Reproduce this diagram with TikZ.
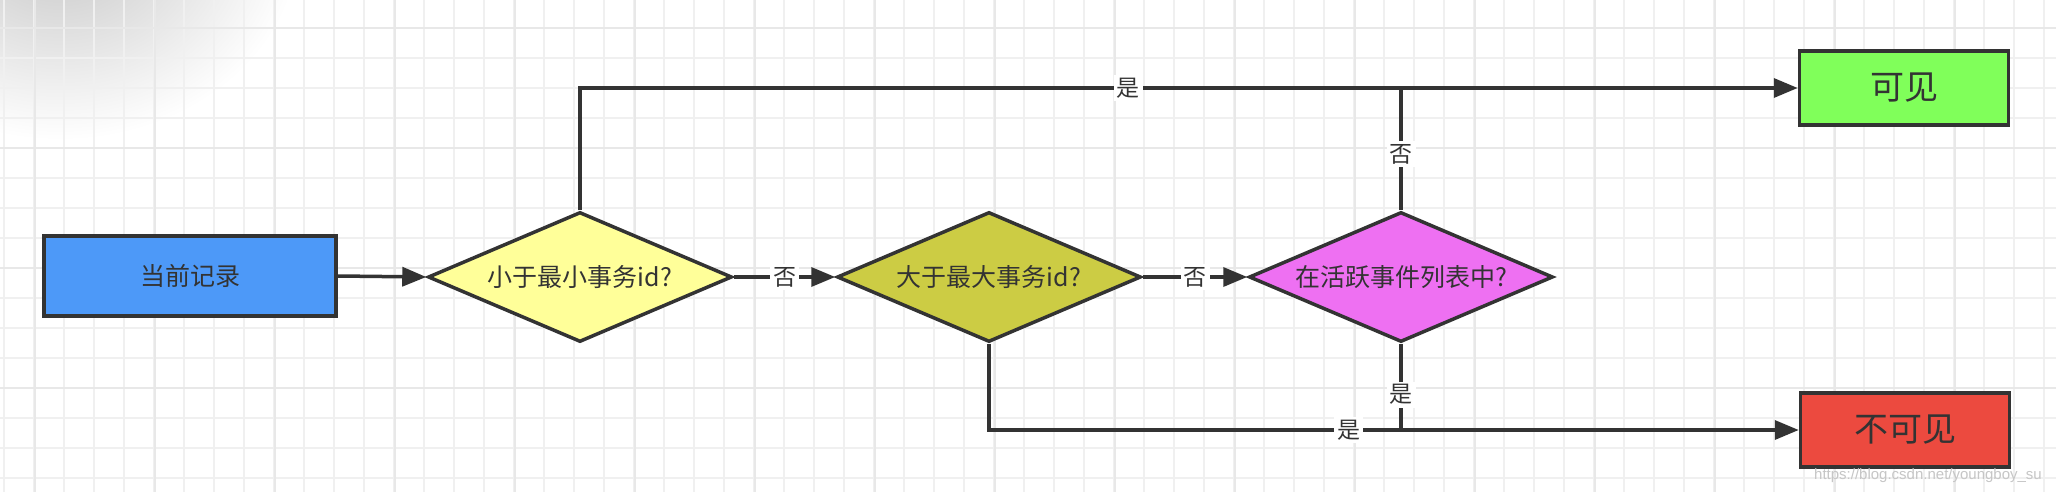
\documentclass[tikz,border=0pt]{standalone}
\usepackage{fontspec}
\setmainfont{Noto Sans CJK SC}
\newfontfamily\wmfont{Liberation Sans}
\usetikzlibrary{shapes.geometric,arrows.meta}
\definecolor{ink}{HTML}{333333}
\definecolor{blueF}{HTML}{4D99F8}
\definecolor{yellowF}{HTML}{FFFF99}
\definecolor{oliveF}{HTML}{CCCC44}
\definecolor{magF}{HTML}{EE70F2}
\definecolor{greenF}{HTML}{80FF5A}
\definecolor{redF}{HTML}{EC4A3F}
\definecolor{gridMinor}{HTML}{F0F0F0}
\definecolor{gridMajor}{HTML}{E8E8E8}
\tikzset{
  boxnode/.style={draw=ink, line width=3.5pt, text=ink, inner sep=0pt,
    minimum width=292pt, minimum height=80pt},
  resnode/.style={draw=ink, line width=3.5pt, text=ink, inner sep=0pt,
    minimum width=209pt, minimum height=74pt, font=\fontsize{34}{40}\selectfont},
  decision/.style={diamond, aspect=2.34, draw=ink, line width=3.5pt, text=ink, inner sep=0pt,
    minimum width=304pt, minimum height=130pt, font=\fontsize{25}{30}\selectfont},
  conn/.style={draw=ink, line width=3.5pt, -{Triangle[length=24pt,width=19pt]}},
  plainconn/.style={draw=ink, line width=3.5pt},
  lbl/.style={fill=white, text=ink, inner sep=3pt, font=\fontsize{23}{26}\selectfont},
  gridl/.style={draw=gridMinor, line width=1.6pt},
  gridL/.style={draw=gridMajor, line width=1.8pt}
}
\begin{document}
\begin{tikzpicture}[x=1pt,y=-1pt]
\useasboundingbox (0,0) rectangle (2056,492);
\fill[white] (0,0) rectangle (2056,492);
% faint corner shadow
\begin{scope}
\clip (0,0) rectangle (2056,492);
\shade[inner color=gray!45, outer color=white] (60,-60) ellipse (240 and 200);
\end{scope}
% grid
\foreach \x in {4,34,...,2056} \draw[gridl] (\x,0) -- (\x,492);
\foreach \y in {28,58,...,492} \draw[gridl] (0,\y) -- (2056,\y);
\foreach \x in {35,155,...,2056} \draw[gridL] (\x,0) -- (\x,492);
\foreach \y in {28,148,...,492} \draw[gridL] (0,\y) -- (2056,\y);

% nodes
\node[boxnode, fill=blueF, font=\fontsize{25}{30}\selectfont] (cur) at (190,276) {当前记录};
\node[decision, fill=yellowF] (d1) at (580,277) {小于最小事务id?};
\node[decision, fill=oliveF] (d2) at (989,277) {大于最大事务id?};
\node[decision, fill=magF] (d3) at (1401,277) {在活跃事件列表中?};
\node[resnode, fill=greenF] (vis) at (1904,88) {可见};
\node[resnode, fill=redF] (nvis) at (1905,430) {不可见};

% connectors
\draw[conn] (cur.east) -- (d1.west);
\draw[conn] (d1.east) -- node[lbl]{否} (d2.west);
\draw[conn] (d2.east) -- node[lbl]{否} (d3.west);
\draw[conn] (d1.north) |- node[lbl, pos=0.725]{是} (vis.west);
\draw[conn] (d2.south) |- node[lbl, pos=0.722]{是} (nvis.west);
\draw[plainconn] (d3.north) -- node[lbl, pos=0.46]{否} (d3.north |- vis.west);
\draw[plainconn] (d3.south) -- node[lbl, pos=0.59]{是} (d3.south |- nvis.west);

% watermark
\node[text=gray!45, font=\wmfont\fontsize{15}{18}\selectfont, inner sep=0pt] (wm) at (1928,476) {https://blog.csdn.net/youngboy\_su};
\end{tikzpicture}
\end{document}
